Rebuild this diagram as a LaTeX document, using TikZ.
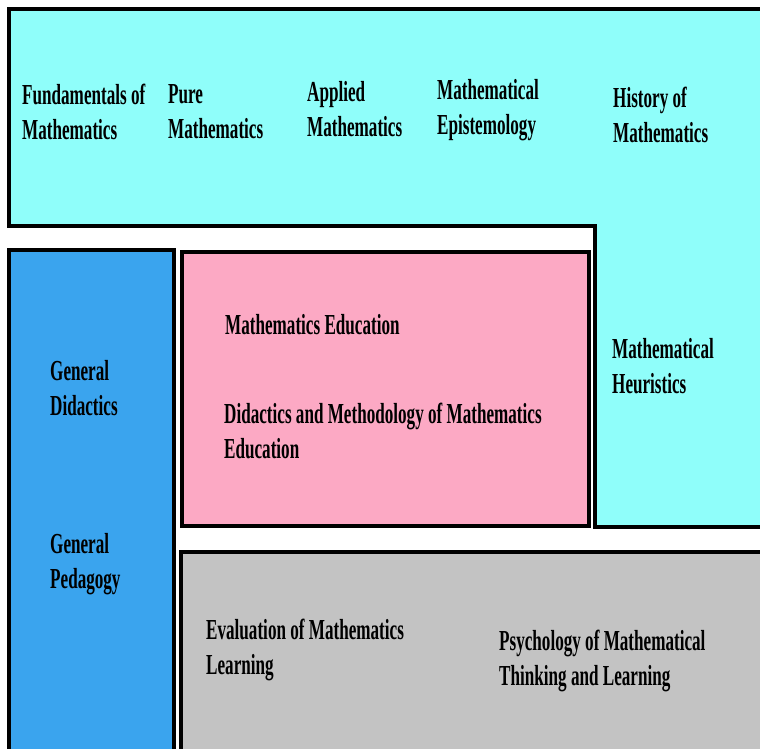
\documentclass[tikz,border=0pt]{standalone}
\usepackage{fontspec}
\setmainfont{Liberation Serif}[FakeStretch=0.59]
\usetikzlibrary{positioning}
\definecolor{mathcyan}{HTML}{8FFEFA}
\definecolor{didblue}{HTML}{3AA4EE}
\definecolor{edupink}{HTML}{FCA9C4}
\definecolor{psygray}{HTML}{C3C3C3}
\tikzset{
  area/.style={draw=black, line width=3.5pt},
  label/.style={anchor=west, inner sep=0pt, align=left,
    font=\bfseries\fontsize{29}{35}\selectfont}
}

\begin{document}
\begin{tikzpicture}[x=1pt, y=-1pt]
    \useasboundingbox[fill=white] (0,0) rectangle (760,749);
    % mathematics (L shape)
    \draw[area, fill=mathcyan] (9,9) -- (770,9) -- (770,527) -- (595,527)
      -- (595,226) -- (9,226) -- cycle;
    % didactics and pedagogy
    \draw[area, fill=didblue] (9,250) rectangle (174,760);
    % mathematics education
    \draw[area, fill=edupink] (182,252) rectangle (589,526);
    % evaluation and psychology
    \draw[area, fill=psygray] (181,552) rectangle (770,760);

    \node[label] (fundam) at (22,112) {Fundamentals of\\Mathematics};
    \node[label] (pure) at (168,112) {Pure\\Mathematics};
    \node[label] (applied) at (307,109) {Applied\\Mathematics};
    \node[label] (episte) at (437,110) {Mathematical\\Epistemology};
    \node[label] (history) at (613,115) {History of\\Mathematics};
    \node[label] (heurist) at (612,366) {Mathematical\\Heuristics};
    \node[label] (gendid) at (50,388) {General\\Didactics};
    \node[label] (genped) at (50,564) {General\\Pedagogy};
    \node[label] (mathedu) at (225,325) {Mathematics Education};
    \node[label] (didmeth) at (224,431) {Didactics and Methodology of Mathematics\\Education};
    \node[label] (evalua) at (206,650) {Evaluation of Mathematics\\Learning};
    \node[label] (psycho) at (499,661) {Psychology of Mathematical\\Thinking and Learning};
  \end{tikzpicture}
\end{document}
